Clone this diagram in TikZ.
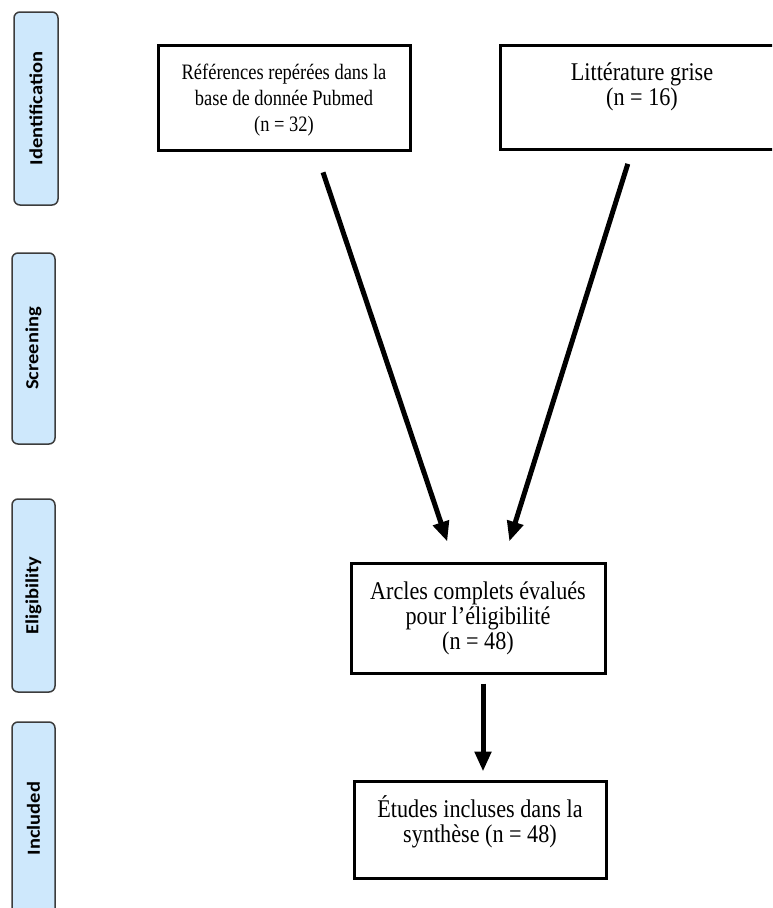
\documentclass[tikz,border=0pt]{standalone}
\usepackage{fontspec}
\setmainfont{Liberation Serif}
\newfontfamily\lblfont{Carlito}
\usetikzlibrary{arrows.meta}
\definecolor{phasefill}{RGB}{206,232,252}
\definecolor{phasedraw}{RGB}{60,60,60}
\tikzset{
  phase/.style={draw=phasedraw, fill=phasefill, line width=1.5pt, rounded corners=6pt,
    minimum width=43pt, inner sep=0pt},
  phasetxt/.style={xscale=0.9, rotate=90, font=\lblfont\bfseries\fontsize{20.5}{24}\selectfont, inner sep=0pt},
  box/.style={draw=black, line width=3pt, inner sep=0pt, fill=white},
  toptxt/.style={xscale=0.84, align=center, inner sep=0pt, font=\fontsize{22}{26}\selectfont},
  bottxt/.style={xscale=0.87, align=center, inner sep=0pt, font=\fontsize{25.5}{25}\selectfont},
  flow/.style={line width=5pt, -{Triangle[length=20pt,width=16pt]}},
}
\begin{document}
\begin{tikzpicture}[x=1pt,y=-1pt]
\clip (0,0) rectangle (772,908);
\fill[white] (0,0) rectangle (772,908);
% phase labels
\node[phase, minimum width=44pt, minimum height=193pt] (pid) at (36,108.5) {};
\node[phasetxt] (tid) at (pid.center) {Identification};
\node[phase, minimum height=191pt] (psc) at (33.5,348.5) {};
\node[phasetxt] (tsc) at (psc.center) {Screening};
\node[phase, minimum height=193pt] (pel) at (33.5,595.5) {};
\node[phasetxt] (tel) at (pel.center) {Eligibility};
\node[phase, minimum height=193pt] (pin) at (33.5,818.5) {};
\node[phasetxt] (tin) at (pin.center) {Included};
% boxes
\node[box, minimum width=252pt, minimum height=105pt] (b1) at (284,97.5) {};
\node[toptxt] (t1) at (284,100.5) {Références repérées dans la\\base de donnée Pubmed\\(n = 32)};
\node[box, minimum width=284pt, minimum height=104pt] (b2) at (642,97) {};
\node[bottxt] (t2) at (642,86.5) {Littérature grise\\(n = 16)};
\node[box, minimum width=254pt, minimum height=110pt] (b3) at (478,618) {};
\node[bottxt] (t3) at (478,618) {Arcles complets évalués\\pour l’éligibilité\\(n = 48)};
\node[box, minimum width=252pt, minimum height=97pt] (b4) at (480,829.5) {};
\node[bottxt] (t4) at (480,821.5) {Études incluses dans la\\synthèse (n = 48)};
% arrows
\draw[flow, shorten <=22pt, shorten >=21pt] ([xshift=32pt]b1.south) -- ([xshift=-24pt]b3.north);
\draw[flow, shorten <=14pt, shorten >=21pt] ([xshift=-10pt]b2.south) -- ([xshift=25pt]b3.north);
\draw[flow, shorten <=9pt, shorten >=8pt] ([xshift=5pt]b3.south) -- ([xshift=3pt]b4.north);
\end{tikzpicture}
\end{document}
